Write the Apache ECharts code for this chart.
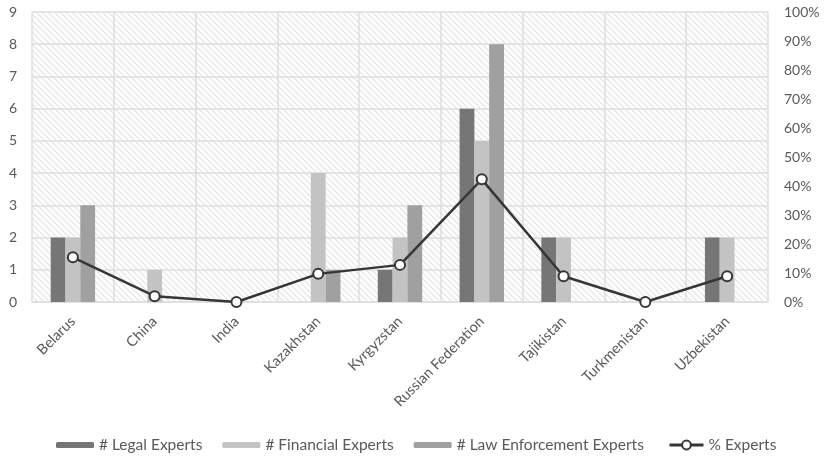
<!DOCTYPE html>
<html>
<head>
<meta charset="utf-8">
<script src="https://cdn.jsdelivr.net/npm/echarts@6/dist/echarts.min.js"></script>
<style>
  html, body { margin: 0; padding: 0; background: #fff; }
  #chart { width: 827px; height: 459px; }
</style>
</head>
<body>
<div id="chart"></div>
<script>
const categories = ['Belarus', 'China', 'India', 'Kazakhstan', 'Kyrgyzstan', 'Russian Federation', 'Tajikistan', 'Turkmenistan', 'Uzbekistan'];
const legalExperts = [2, 0, 0, 0, 1, 6, 2, 0, 2];
const financialExperts = [2, 1, 0, 4, 2, 5, 2, 0, 2];
const lawEnforcementExperts = [3, 0, 0, 1, 3, 8, 0, 0, 0];
const pctExperts = [0.154, 0.02, 0, 0.097, 0.128, 0.423, 0.089, 0, 0.089];
const leftTicks = [0, 1, 2, 3, 4, 5, 6, 7, 8, 9];
const rightTicks = [0, 0.1, 0.2, 0.3, 0.4, 0.5, 0.6, 0.7, 0.8, 0.9, 1];

// Diagonal hatch tile for the plot background
function hatchTile() {
  const s = 6;
  const c = document.createElement('canvas');
  c.width = s; c.height = s;
  const g = c.getContext('2d');
  g.fillStyle = '#ffffff';
  g.fillRect(0, 0, s, s);
  g.strokeStyle = '#e6e6e6';
  g.lineWidth = 1.3;
  g.beginPath();
  g.moveTo(-1, -1); g.lineTo(s + 1, s + 1);
  g.moveTo(-1, s - 1); g.lineTo(1, s + 1);
  g.moveTo(s - 1, -1); g.lineTo(s + 1, 1);
  g.stroke();
  return c;
}

const font = 'Lato, "Open Sans", sans-serif';
const txt = '#595959';
const gridCol = '#dedede';
const lineCol = '#363636';
const legendText = { color: txt, fontSize: 15.5, fontFamily: font };

const chart = echarts.init(document.getElementById('chart'), null, { renderer: 'canvas' });
chart.setOption({
  animation: false,
  textStyle: { fontFamily: font },
  grid: {
    left: 32, right: 59, top: 12, bottom: 157,
    show: true,
    borderWidth: 0,
    backgroundColor: { image: hatchTile(), repeat: 'repeat' }
  },
  legend: [
    {
      top: 437, left: 56, padding: 0,
      itemWidth: 38, itemHeight: 6, itemGap: 20,
      textStyle: legendText,
      data: ['# Legal Experts', '# Financial Experts', '# Law Enforcement Experts']
    },
    {
      top: 437, left: 668, padding: 0,
      itemWidth: 34, itemHeight: 11, itemGap: 20,
      textStyle: legendText,
      lineStyle: { width: 3, color: lineCol },
      data: ['% Experts']
    }
  ],
  xAxis: {
    type: 'category',
    data: categories,
    axisLine: { lineStyle: { color: gridCol, width: 1.5 } },
    axisTick: { show: false },
    splitLine: { show: true, interval: 0, lineStyle: { color: gridCol, width: 1.5 } },
    axisLabel: { rotate: 45, interval: 0, color: txt, fontSize: 14.5, fontFamily: font, margin: 17 }
  },
  yAxis: [
    {
      type: 'value', min: leftTicks[0], max: leftTicks[leftTicks.length - 1], interval: 1,
      axisLine: { show: false }, axisTick: { show: false },
      splitLine: { lineStyle: { color: gridCol, width: 1.5 } },
      axisLabel: { color: txt, fontSize: 14, fontFamily: font, margin: 15 }
    },
    {
      type: 'value', min: rightTicks[0], max: rightTicks[rightTicks.length - 1], interval: 0.1,
      axisLine: { show: false }, axisTick: { show: false },
      splitLine: { show: false },
      axisLabel: {
        color: txt, fontSize: 14, fontFamily: font, margin: 16,
        formatter: v => Math.round(v * 100) + '%'
      }
    }
  ],
  series: [
    {
      name: '# Legal Experts', type: 'bar', data: legalExperts,
      barWidth: 14.8, barGap: '0%',
      itemStyle: { color: '#767676' }
    },
    {
      name: '# Financial Experts', type: 'bar', data: financialExperts,
      barWidth: 14.8, barGap: '0%',
      itemStyle: { color: '#c3c3c3' }
    },
    {
      name: '# Law Enforcement Experts', type: 'bar', data: lawEnforcementExperts,
      barWidth: 14.8, barGap: '0%',
      itemStyle: { color: '#a0a0a0' }
    },
    {
      name: '% Experts', type: 'line', yAxisIndex: 1, data: pctExperts,
      symbol: 'circle', symbolSize: 10,
      lineStyle: { color: lineCol, width: 2.5 },
      itemStyle: { color: '#ffffff', borderColor: lineCol, borderWidth: 2 },
      z: 5
    }
  ]
});
</script>
</body>
</html>
